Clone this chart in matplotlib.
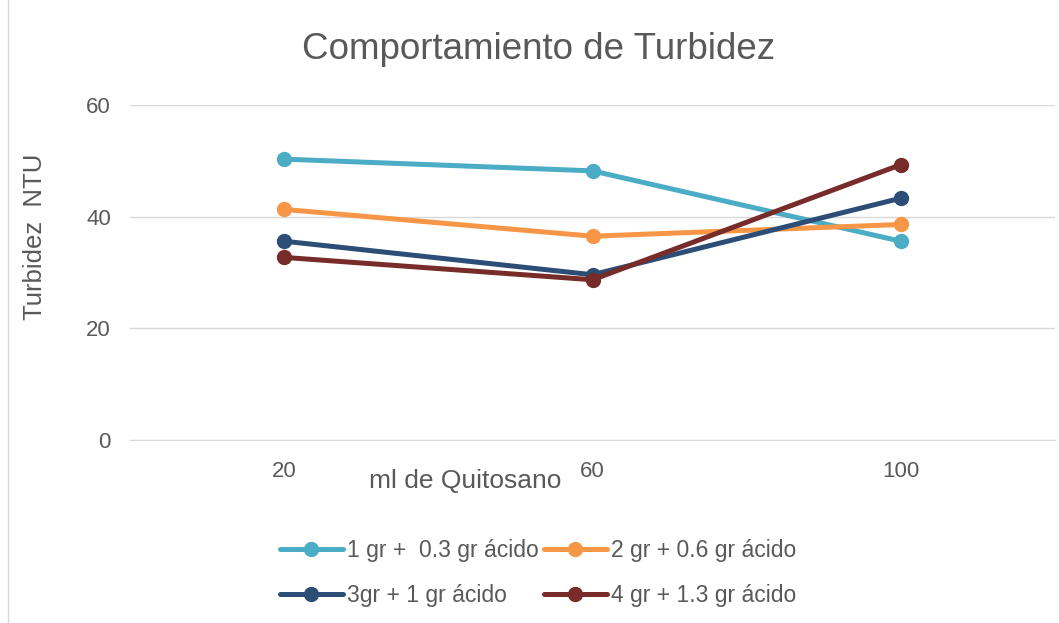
import matplotlib.pyplot as plt
import numpy as np

categorias = ['20', '60', '100']
serie_1 = [50.3, 48.2, 35.6]
serie_2 = [41.3, 36.5, 38.6]
serie_3 = [35.6, 29.6, 43.3]
serie_4 = [32.7, 28.7, 49.3]
nomes = ['1 gr +  0.3 gr ácido', '2 gr + 0.6 gr ácido', '3gr + 1 gr ácido', '4 gr + 1.3 gr ácido']
cores = ['#4BACC6', '#F79646', '#2C4D75', '#772C2A']

texto = '#595959'
plt.rcParams['font.family'] = ['Liberation Sans', 'DejaVu Sans']

fig = plt.figure(figsize=(10.59, 6.23), dpi=100)
ax = fig.add_axes([0.123, 0.2937, 0.873, 0.5378])

x = np.arange(len(categorias))
linhas = []
for valores, nome, cor in zip([serie_1, serie_2, serie_3, serie_4], nomes, cores):
    l, = ax.plot(x, valores, color=cor, linewidth=3.6, marker='o', markersize=10,
                 solid_capstyle='round', label=nome)
    linhas.append(l)

ax.set_xlim(-0.5, 2.5)
ax.set_ylim(0, 60)
ax.set_yticks([0, 20, 40, 60])
ax.set_xticks(x)
ax.set_xticklabels(categorias)
ax.grid(axis='y', color='#D9D9D9', linewidth=1)
ax.set_axisbelow(True)
for lado in ['top', 'right', 'left']:
    ax.spines[lado].set_visible(False)
ax.spines['bottom'].set_color('#D9D9D9')
ax.tick_params(length=0, labelsize=16, colors=texto)
ax.tick_params(axis='x', pad=15)
ax.tick_params(axis='y', pad=14)

fig.text(0.033, 0.62, 'Turbidez  NTU', fontsize=18.5, color=texto, rotation=90,
         ha='center', va='center')
fig.text(0.439, 0.228, 'ml de Quitosano', fontsize=19, color=texto, ha='center', va='center')
fig.text(0.509, 0.92, 'Comportamiento de Turbidez', fontsize=26.5, color=texto, ha='center', va='center')

# ordem por linhas, como no original
ordem = [0, 2, 1, 3]
fig.legend([linhas[i] for i in ordem], [nomes[i] for i in ordem],
           loc='center', bbox_to_anchor=(0.508, 0.08), ncol=2, frameon=False,
           fontsize=16.5, labelcolor=texto, handlelength=2.75, handletextpad=0.2,
           columnspacing=0.2, labelspacing=0.95)

fig.add_artist(plt.Line2D([0.008, 0.008], [0, 1], color='#D9D9D9', linewidth=1))

fig.savefig('out.png', dpi=100)
